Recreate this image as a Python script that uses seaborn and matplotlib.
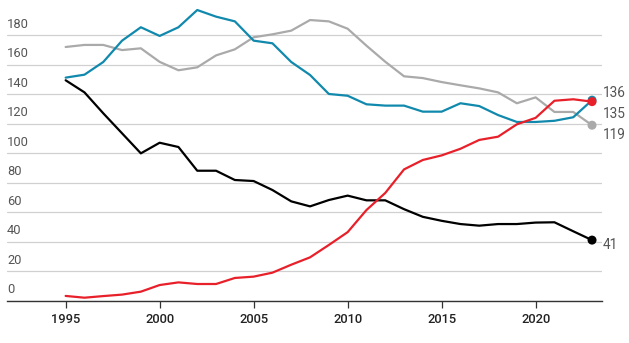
import matplotlib
matplotlib.use("Agg")
import matplotlib.pyplot as plt
import matplotlib.transforms as mtransforms
import numpy as np
import pandas as pd
import seaborn as sns

# ---------------- data ----------------
years = list(range(1995, 2024))
blue_vals = [151.3, 153.3, 161.9, 176.4, 185.5, 179.6, 185.5, 197.2, 192.7, 189.5,
             176.4, 174.6, 161.9, 153.1, 140.2, 139.0, 133.2, 132.3, 132.3, 128.2,
             128.2, 133.9, 132.0, 125.9, 121.2, 121.2, 122.0, 124.4, 136]
gray_vals = [172.1, 173.5, 173.5, 170.0, 171.2, 162.0, 156.3, 158.3, 166.4, 170.5,
             178.7, 180.7, 183.2, 190.4, 189.5, 184.5, 173.0, 162.1, 152.2, 151.0,
             148.3, 146.1, 144.0, 141.3, 133.9, 137.9, 128.0, 128.0, 119]
black_vals = [149.5, 141.3, 127.1, 113.5, 99.9, 107.1, 104.2, 88.1, 88.1, 81.8,
              81.1, 75.0, 67.3, 63.9, 68.2, 71.2, 68.0, 68.0, 62.0, 56.8,
              54.1, 51.9, 50.8, 51.9, 51.9, 52.9, 53.1, 47.0, 41]
red_vals = [3.1, 1.9, 3.0, 4.0, 6.0, 10.5, 12.3, 11.2, 11.2, 15.3,
            16.2, 18.9, 24.3, 29.3, 37.7, 46.4, 61.4, 73.0, 89.0, 95.4,
            98.5, 103.0, 109.0, 111.2, 119.6, 124.0, 135.6, 136.6, 135]
series_names = ["gray", "black", "blue", "red"]
y_ticks = [0, 20, 40, 60, 80, 100, 120, 140, 160, 180]
x_ticks = [1995, 2000, 2005, 2010, 2015, 2020]

# ---------------- style ----------------
sns.set_theme(style="white")
plt.rcParams["font.family"] = ["Roboto", "DejaVu Sans"]

colors = {"gray": "#aaaaaa", "black": "#000000", "blue": "#1189ad", "red": "#e8202a"}
label_offsets = {"blue": (8, 5), "red": (8, -8.6), "gray": (8, -7.2), "black": (8, -3.5)}

values = {"gray": gray_vals, "black": black_vals, "blue": blue_vals, "red": red_vals}
df = pd.concat(
    [pd.DataFrame({"year": years, "value": values[n], "series": n}) for n in series_names],
    ignore_index=True,
)

fig = plt.figure(figsize=(6.29, 3.43), dpi=100)
ax = fig.add_axes([7 / 629, 1 - 300.5 / 343, 595 / 629, 300.5 / 343])

sns.lineplot(data=df, x="year", y="value", hue="series", hue_order=series_names,
             palette=colors, linewidth=1.6, legend=False, ax=ax, zorder=3)

last = df[df["year"] == years[-1]]
for n in series_names:
    row = last[last["series"] == n]
    sns.scatterplot(x=row["year"], y=row["value"], color=colors[n], s=42,
                    edgecolor="none", ax=ax, zorder=4, legend=False, clip_on=False)
    v = float(row["value"].iloc[0])
    ax.annotate(f"{v:.0f}", xy=(years[-1], v), xytext=label_offsets[n],
                textcoords="offset points", ha="left", va="center",
                fontsize=9.8, color="#555555", fontweight="normal",
                annotation_clip=False)

ax.set_xlim(1991.88, 2023.53)
ax.set_ylim(0, 204)

ax.set_yticks(y_ticks)
ax.set_yticklabels([])
ax.tick_params(axis="y", length=0)
ax.grid(axis="y", color="#d0d0d0", linewidth=0.9)
ax.grid(axis="x", visible=False)
ax.set_axisbelow(True)

trans = mtransforms.blended_transform_factory(ax.transAxes, ax.transData)
for t in y_ticks:
    ax.annotate(str(t), xy=(0, t), xycoords=trans, xytext=(0, 3.2),
                textcoords="offset points", ha="left", va="bottom",
                fontsize=9.3, color="#555555", fontweight="normal")

ax.set_xticks(x_ticks)
ax.set_xticklabels([str(x) for x in x_ticks], fontsize=9.3, color="#222222",
                   fontweight="medium")
ax.tick_params(axis="x", direction="out", length=5, width=0.9, color="#333333",
               pad=4, bottom=True)

for s in ["top", "right", "left"]:
    ax.spines[s].set_visible(False)
ax.spines["bottom"].set_color("#333333")
ax.spines["bottom"].set_linewidth(1.0)

ax.set_xlabel("")
ax.set_ylabel("")

fig.savefig("out.png", dpi=100, facecolor="white")
